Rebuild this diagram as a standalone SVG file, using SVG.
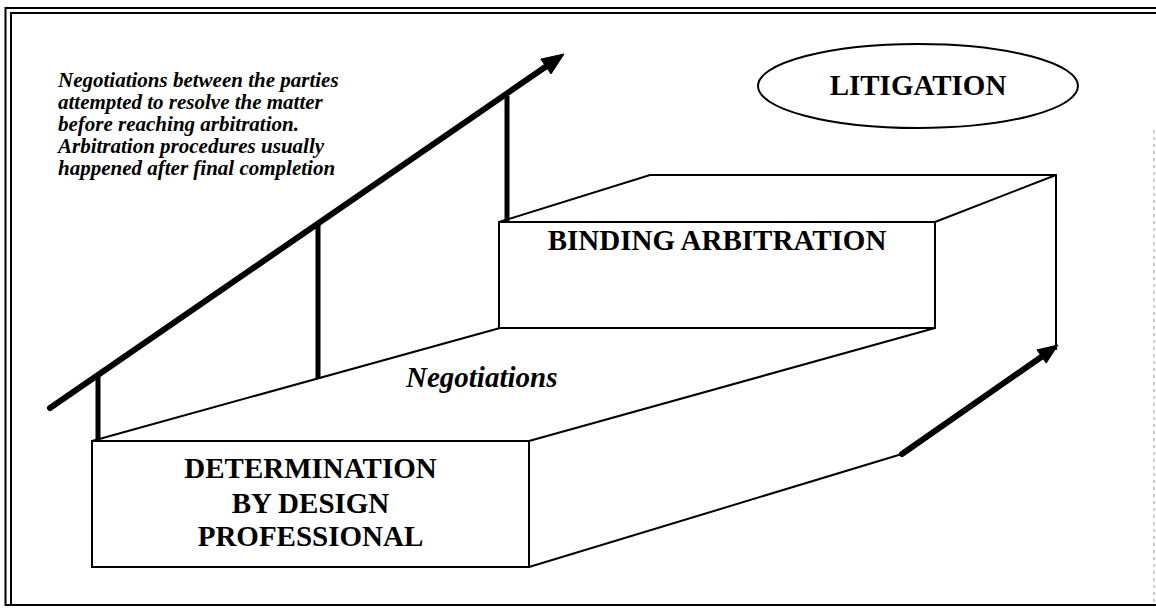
<svg xmlns="http://www.w3.org/2000/svg" width="1156" height="608" viewBox="0 0 1156 608">
  <style>
    .frame { fill: none; stroke: #000; stroke-width: 2; }
    .edge { fill: none; stroke: #000; stroke-width: 2; stroke-linejoin: miter; }
    .thick { fill: none; stroke: #000; stroke-width: 6; stroke-linecap: round; }
    .post { fill: none; stroke: #000; stroke-width: 5; }
    .head { fill: #000; stroke: #000; stroke-width: 1; stroke-linejoin: round; }
    .label { font-family: "Liberation Serif", "Times New Roman", serif; font-weight: bold; font-size: 29px; fill: #000; }
    .ital { font-style: italic; }
    .note { font-family: "Liberation Serif", "Times New Roman", serif; font-weight: bold; font-style: italic; font-size: 21px; fill: #000; }
  </style>

  <rect width="1156" height="608" fill="#fff"/>

  <!-- double-ruled page frame -->
  <g id="frame">
    <path class="frame" d="M5.5,606 V8 H1156"/>
    <path class="frame" d="M11,606 V13 H1156"/>
    <path class="frame" stroke-width="2.5" d="M5,605 H1156"/>
    <path d="M1154,130 V604" fill="none" stroke="#999" stroke-width="1" stroke-dasharray="3 4"/>
  </g>

  <!-- explanatory note -->
  <g id="note">
    <text class="note" x="58" y="87">Negotiations between the parties</text>
    <text class="note" x="58" y="109">attempted to resolve the matter</text>
    <text class="note" x="58" y="131">before reaching arbitration.</text>
    <text class="note" x="58" y="153">Arbitration procedures usually</text>
    <text class="note" x="58" y="175">happened after final completion</text>
  </g>

  <!-- top step: litigation -->
  <g id="litigation">
    <ellipse cx="918" cy="86" rx="160" ry="42" fill="none" stroke="#000" stroke-width="2"/>
    <text class="label" x="918" y="95" text-anchor="middle">LITIGATION</text>
  </g>

  <!-- middle step: binding arbitration block -->
  <g id="binding-arbitration">
    <path class="edge" d="M499,222 L650,175 H1056 L935,222"/>
    <rect class="edge" x="499" y="222" width="436" height="106" fill="#fff"/>
    <text class="label" x="717" y="250" text-anchor="middle">BINDING ARBITRATION</text>
  </g>

  <!-- bottom step: determination block -->
  <g id="determination">
    <path class="edge" d="M92,441 L500,328"/>
    <path class="edge" d="M529,441 L935,328"/>
    <path class="edge" d="M529,567 L902,454"/>
    <rect class="edge" x="92" y="441" width="437" height="126" fill="#fff"/>
    <text class="label" x="310.5" y="478" text-anchor="middle">DETERMINATION</text>
    <text class="label" x="310.5" y="513" text-anchor="middle">BY DESIGN</text>
    <text class="label" x="310.5" y="546" text-anchor="middle">PROFESSIONAL</text>
  </g>

  <g id="negotiations">
    <text class="label ital" x="406" y="387">Negotiations</text>
  </g>

  <!-- escalation arrows and posts -->
  <g id="connectors">
    <line class="thick" x1="50" y1="408" x2="546" y2="66.5"/>
    <polygon class="head" points="564,54 551,73.9 540.8,59.1"/>
    <line class="post" x1="98" y1="375" x2="98" y2="441"/>
    <line class="post" x1="318" y1="223" x2="318" y2="379"/>
    <line class="post" x1="507" y1="96" x2="507" y2="221"/>

    <line class="edge" x1="1056" y1="174" x2="1056" y2="350"/>
    <line class="thick" stroke-width="5" x1="902" y1="454" x2="1042" y2="356.5"/>
    <polygon class="head" points="1058,345 1046.2,363.1 1037,349.9"/>
  </g>
</svg>
